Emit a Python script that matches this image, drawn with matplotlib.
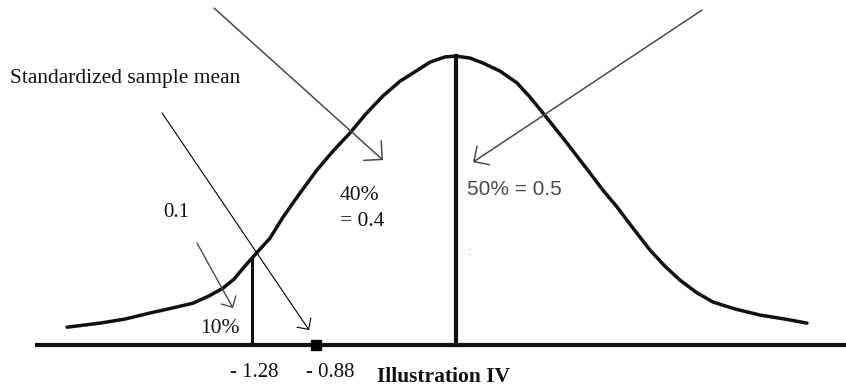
import matplotlib
matplotlib.use("Agg")
import matplotlib.pyplot as plt
from matplotlib.patches import FancyArrowPatch

# ---- data (z-score on x, relative density height on y) ----
curve_z = [-2.44, -2.233, -2.077, -1.92, -1.782, -1.65, -1.55, -1.462, -1.393, -1.336,
           -1.28, -1.223, -1.167, -1.085, -0.979, -0.872, -0.772, -0.665, -0.565, -0.458,
           -0.351, -0.245, -0.163, -0.069, 0.0, 0.088, 0.169, 0.276, 0.383, 0.464,
           0.546, 0.621, 0.696, 0.841, 0.922, 1.01, 1.11, 1.217, 1.311, 1.405,
           1.506, 1.612, 1.75, 1.907, 2.064, 2.202]
curve_h = [0.062, 0.076, 0.090, 0.111, 0.128, 0.145, 0.170, 0.197, 0.228, 0.266,
           0.301, 0.336, 0.370, 0.443, 0.526, 0.606, 0.671, 0.734, 0.800, 0.862,
           0.913, 0.950, 0.979, 0.997, 1.0, 0.993, 0.976, 0.948, 0.907, 0.858,
           0.803, 0.751, 0.699, 0.595, 0.536, 0.478, 0.405, 0.329, 0.273, 0.225,
           0.183, 0.149, 0.125, 0.104, 0.090, 0.076]

critical_z = -1.28
critical_h = 0.301
mean_z = 0.0
mean_h = 1.0
sample_z = -0.88

tick_values = [-1.28, -0.88]
tick_labels = ["- 1.28", "- 0.88"]

title = "Illustration IV"

# ---- figure ----
fig = plt.figure(figsize=(8.46, 3.87), dpi=100)
ax = fig.add_axes([0, 0, 1, 1])
ax.set_xlim(-2.861, 2.447)
ax.set_ylim(-0.145, 1.194)
ax.axis("off")

ink = "#111111"
gray = "#4a4a4a"
serif = ["Liberation Serif", "DejaVu Serif"]
sans = ["Liberation Sans", "DejaVu Sans"]

# baseline
ax.plot([-2.64, 2.447], [0, 0], color=ink, lw=3.0, solid_capstyle="butt", zorder=2)
# bell curve
ax.plot(curve_z, curve_h, color=ink, lw=2.5, solid_joinstyle="round",
        solid_capstyle="round", zorder=3)
# vertical lines
ax.plot([critical_z, critical_z], [0, critical_h], color=ink, lw=2.2, zorder=3)
ax.plot([mean_z, mean_z], [0, mean_h], color=ink, lw=3.0, zorder=3)
# sample mean marker
ax.plot([sample_z], [0], marker="s", color="black", markersize=7, zorder=4)

# tick labels
tick_offsets = [-16, -7]
for v, lab, off in zip(tick_values, tick_labels, tick_offsets):
    ax.annotate(lab, xy=(v, 0), xytext=(off, -23), textcoords="offset points",
                ha="left", va="baseline", fontsize=15, family=serif, color=ink)

ax.text(-0.496, -0.127, title, ha="left", va="baseline", fontsize=15.5,
        fontweight="bold", family=serif, color=ink)


def arrow(p0, p1, color, lw, hl):
    a = FancyArrowPatch(p0, p1, arrowstyle=f"->,head_length={hl},head_width={hl}",
                        mutation_scale=10, color=color, lw=lw,
                        shrinkA=0, shrinkB=0, zorder=5)
    ax.add_patch(a)


# arrows
arrow((-1.844, 0.803), (-0.922, 0.052), "black", 0.8, 0.6)
arrow((-1.518, 1.166), (-0.458, 0.640), gray, 1.1, 0.95)
arrow((1.543, 1.159), (0.107, 0.633), gray, 1.1, 0.8)
arrow((-1.625, 0.353), (-1.399, 0.128), gray, 1.0, 0.6)

# annotations
ax.text(-2.798, 0.907, "Standardized sample mean", ha="left", va="baseline",
        fontsize=15.5, family=serif, color=ink)
ax.text(-1.838, 0.443, "0.1", ha="left", va="baseline", fontsize=15,
        family=serif, color=ink)
ax.text(-1.606, 0.0415, "10%", ha="left", va="baseline", fontsize=15.5,
        family=serif, color=ink)
ax.text(-0.728, 0.502, "40%", ha="left", va="baseline", fontsize=15.5,
        family=serif, color=ink)
ax.text(-0.728, 0.412, "= 0.4", ha="left", va="baseline", fontsize=15.5,
        family=serif, color=ink)
ax.text(0.069, 0.519, "50% = 0.5", ha="left", va="baseline", fontsize=15,
        family=sans, color=gray)
ax.text(0.069, 0.31, ":", ha="left", va="baseline", fontsize=7,
        family=sans, color="#777777")

fig.savefig("out.png", dpi=100, facecolor="white")
